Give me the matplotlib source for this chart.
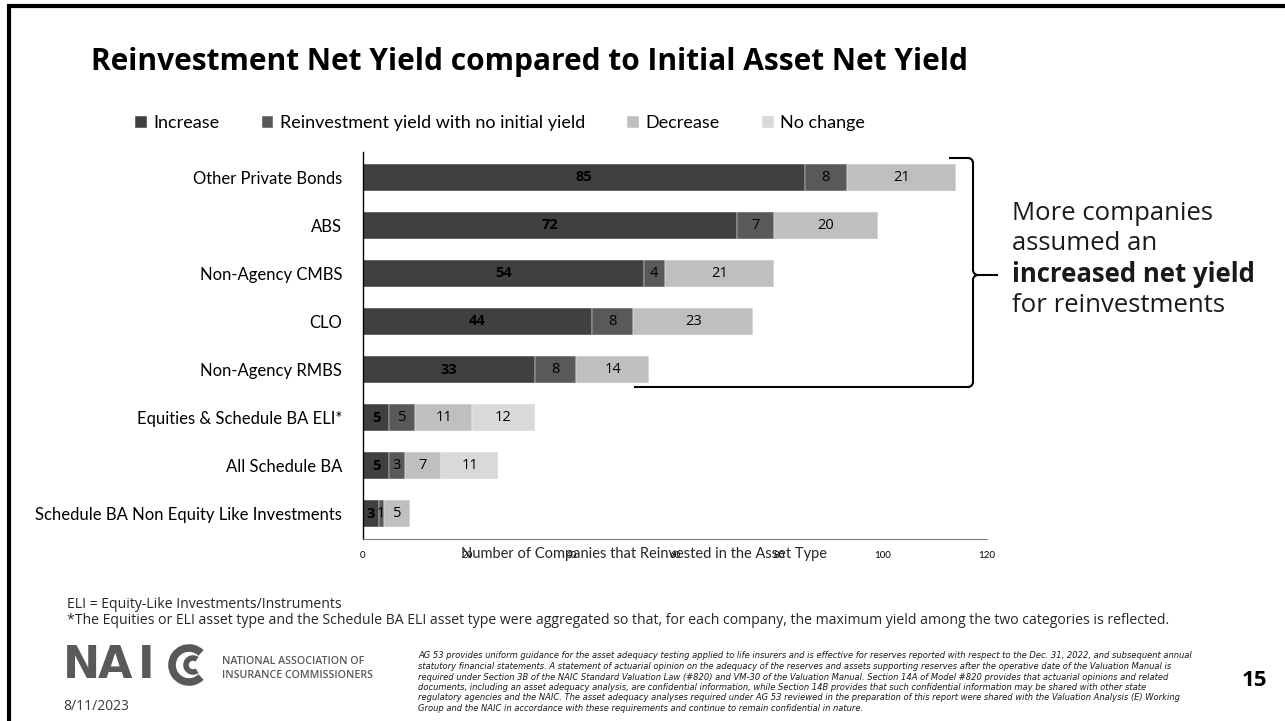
import matplotlib.pyplot as plt
from matplotlib.patches import Arc
import numpy as np

plt.rcParams['font.family'] = ['Lato', 'DejaVu Sans']

# data
categories = ["Other Private Bonds", "ABS", "Non-Agency CMBS", "CLO", "Non-Agency RMBS",
              "Equities & Schedule BA ELI*", "All Schedule BA",
              "Schedule BA Non Equity Like Investments"]
increase = [85, 72, 54, 44, 33, 5, 5, 3]
no_initial = [8, 7, 4, 8, 8, 5, 3, 1]
decrease = [21, 20, 21, 23, 14, 11, 7, 5]
no_change = [0, 0, 0, 0, 0, 12, 11, 0]
series_names = ["Increase", "Reinvestment yield with no initial yield", "Decrease", "No change"]
colors = ['#404040', '#595959', '#bfbfbf', '#d9d9d9']
x_ticks = [0, 20, 40, 60, 80, 100, 120]

W, H = 1285, 721
fig = plt.figure(figsize=(W / 100, H / 100), dpi=100)

ax = fig.add_axes([363 / W, 1 - 539 / H, 624 / W, 387 / H])

# overlay in pixel coords for slide decoration (on top, no background)
ov = fig.add_axes([0, 0, 1, 1], zorder=5)
ov.set_xlim(0, W)
ov.set_ylim(H, 0)
ov.axis('off')

y = np.arange(len(categories))
left = np.zeros(len(categories))
containers = []
for vals, name, c in zip([increase, no_initial, decrease, no_change], series_names, colors):
    bars = ax.barh(y, vals, left=left, height=0.56, color=c, label=name,
                   edgecolor='white', linewidth=0.3)
    containers.append(bars)
    left = left + np.array(vals)

for i, bars in enumerate(containers):
    vals = [increase, no_initial, decrease, no_change][i]
    labels = [str(v) if v > 0 else '' for v in vals]
    ax.bar_label(bars, labels=labels, label_type='center', fontsize=10.5,
                 fontweight='bold' if i == 0 else 'normal', color='black',
                 family=['Open Sans', 'DejaVu Sans'])

ax.set_ylim(len(categories) - 0.48, -0.52)
ax.set_xlim(0, 120)
ax.set_yticks(y)
ax.set_yticklabels(categories, fontsize=12)
ax.set_xticks(x_ticks)
ax.set_xticklabels([str(t) for t in x_ticks], fontsize=7)
ax.tick_params(axis='both', length=0)
ax.tick_params(axis='y', pad=15)
ax.tick_params(axis='x', pad=9)
for s in ['top', 'right']:
    ax.spines[s].set_visible(False)
ax.spines['left'].set_color('black')
ax.spines['left'].set_linewidth(1.0)
ax.spines['bottom'].set_color('#7f7f7f')
ax.spines['bottom'].set_linewidth(0.8)

# axis title overlapping the tick labels, as on the slide
ov.text(644, 554, "Number of Companies that Reinvested in the Asset Type", fontsize=10.5,
        ha='center', va='center', color='#262626')

# legend
fig.legend(handles=containers, labels=series_names, loc='center left',
           bbox_to_anchor=(135 / W, 1 - 123 / H), ncol=4, frameon=False, fontsize=13,
           handlelength=0.65, handleheight=0.65, handletextpad=0.35, columnspacing=2.35,
           borderaxespad=0, borderpad=0)

# title
ov.text(91, 62, "Reinvestment Net Yield compared to Initial Asset Net Yield",
        fontsize=21.5, fontweight='bold', ha='left', va='center', color='black',
        family=['Open Sans', 'DejaVu Sans'])

# slide border
ov.plot([9, 9, W], [H, 6, 6], color='black', lw=3, solid_joinstyle='miter')

# bracket on the right
bx = 973
kw = dict(color='black', lw=1.5)
ov.plot([950, bx - 5], [158, 158], **kw)
ov.add_patch(Arc((bx - 5, 163), 10, 10, theta1=270, theta2=360, **kw))
ov.plot([bx, bx], [163, 270], **kw)
ov.add_patch(Arc((bx + 5, 270), 10, 10, theta1=90, theta2=180, **kw))
ov.add_patch(Arc((bx + 5, 280), 10, 10, theta1=180, theta2=270, **kw))
ov.plot([bx + 5, 997], [275, 275], **kw)
ov.plot([bx, bx], [280, 382], **kw)
ov.add_patch(Arc((bx - 5, 382), 10, 10, theta1=0, theta2=90, **kw))
ov.plot([635, bx - 5], [387, 387], **kw)

# call-out text
co = dict(fontsize=18.5, ha='left', va='center', color='#1a1a1a', family=['Open Sans', 'DejaVu Sans'])
ov.text(1012, 213, "More companies", **co)
ov.text(1012, 244, "assumed an", **co)
ov.text(1012, 275, "increased net yield", fontweight='bold', **co)
ov.text(1012, 306, "for reinvestments", **co)

# footnotes
fn = dict(fontsize=10.1, ha='left', va='center', color='#262626', family=['Open Sans', 'DejaVu Sans'])
ov.text(67, 604, "ELI = Equity-Like Investments/Instruments", **fn)
ov.text(67, 620, "*The Equities or ELI asset type and the Schedule BA ELI asset type were aggregated "
        "so that, for each company, the maximum yield among the two categories is reflected.", **fn)

# NAIC logo
logo_c = '#58595b'
lg = dict(fontsize=32, fontweight='bold', ha='left', va='center', color=logo_c,
          family=['DejaVu Sans'])
ov.text(63, 666, "N", **lg)
ov.text(98, 666, "A", **lg)
ov.text(138, 666, "I", **lg)
ov.add_patch(Arc((189, 665), 34, 34, theta1=45, theta2=315, color=logo_c, lw=5.5))
ov.add_patch(Arc((193, 665), 14, 14, theta1=55, theta2=305, color=logo_c, lw=4))
lt = dict(fontsize=7.7, ha='left', va='center', color=logo_c, fontweight='semibold',
          family=['Open Sans', 'DejaVu Sans'])
ov.text(222, 661, "NATIONAL ASSOCIATION OF", **lt)
ov.text(222, 675, "INSURANCE COMMISSIONERS", **lt)
ov.text(63, 707, "8/11/2023", fontsize=10, ha='left', va='center', color='#3a3a3a',
        family=['Open Sans', 'DejaVu Sans'])

disclaimer = [
    "AG 53 provides uniform guidance for the asset adequacy testing applied to life insurers and is effective for reserves reported with respect to the Dec. 31, 2022, and subsequent annual",
    "statutory financial statements. A statement of actuarial opinion on the adequacy of the reserves and assets supporting reserves after the operative date of the Valuation Manual is",
    "required under Section 3B of the NAIC Standard Valuation Law (#820) and VM-30 of the Valuation Manual. Section 14A of Model #820 provides that actuarial opinions and related",
    "documents, including an asset adequacy analysis, are confidential information, while Section 14B provides that such confidential information may be shared with other state",
    "regulatory agencies and the NAIC. The asset adequacy analyses required under AG 53 reviewed in the preparation of this report were shared with the Valuation Analysis (E) Working",
    "Group and the NAIC in accordance with these requirements and continue to remain confidential in nature.",
]
for k, line in enumerate(disclaimer):
    ov.text(418, 656 + k * 10.5, line, fontsize=6.0, style='italic', ha='left', va='center',
            color='#1a1a1a', family=['Liberation Sans Narrow', 'DejaVu Sans'])

ov.text(1254, 680, "15", fontsize=16, fontweight='bold', ha='center', va='center', color='black',
        family=['Open Sans', 'DejaVu Sans'])

fig.savefig('out.png', dpi=100)
